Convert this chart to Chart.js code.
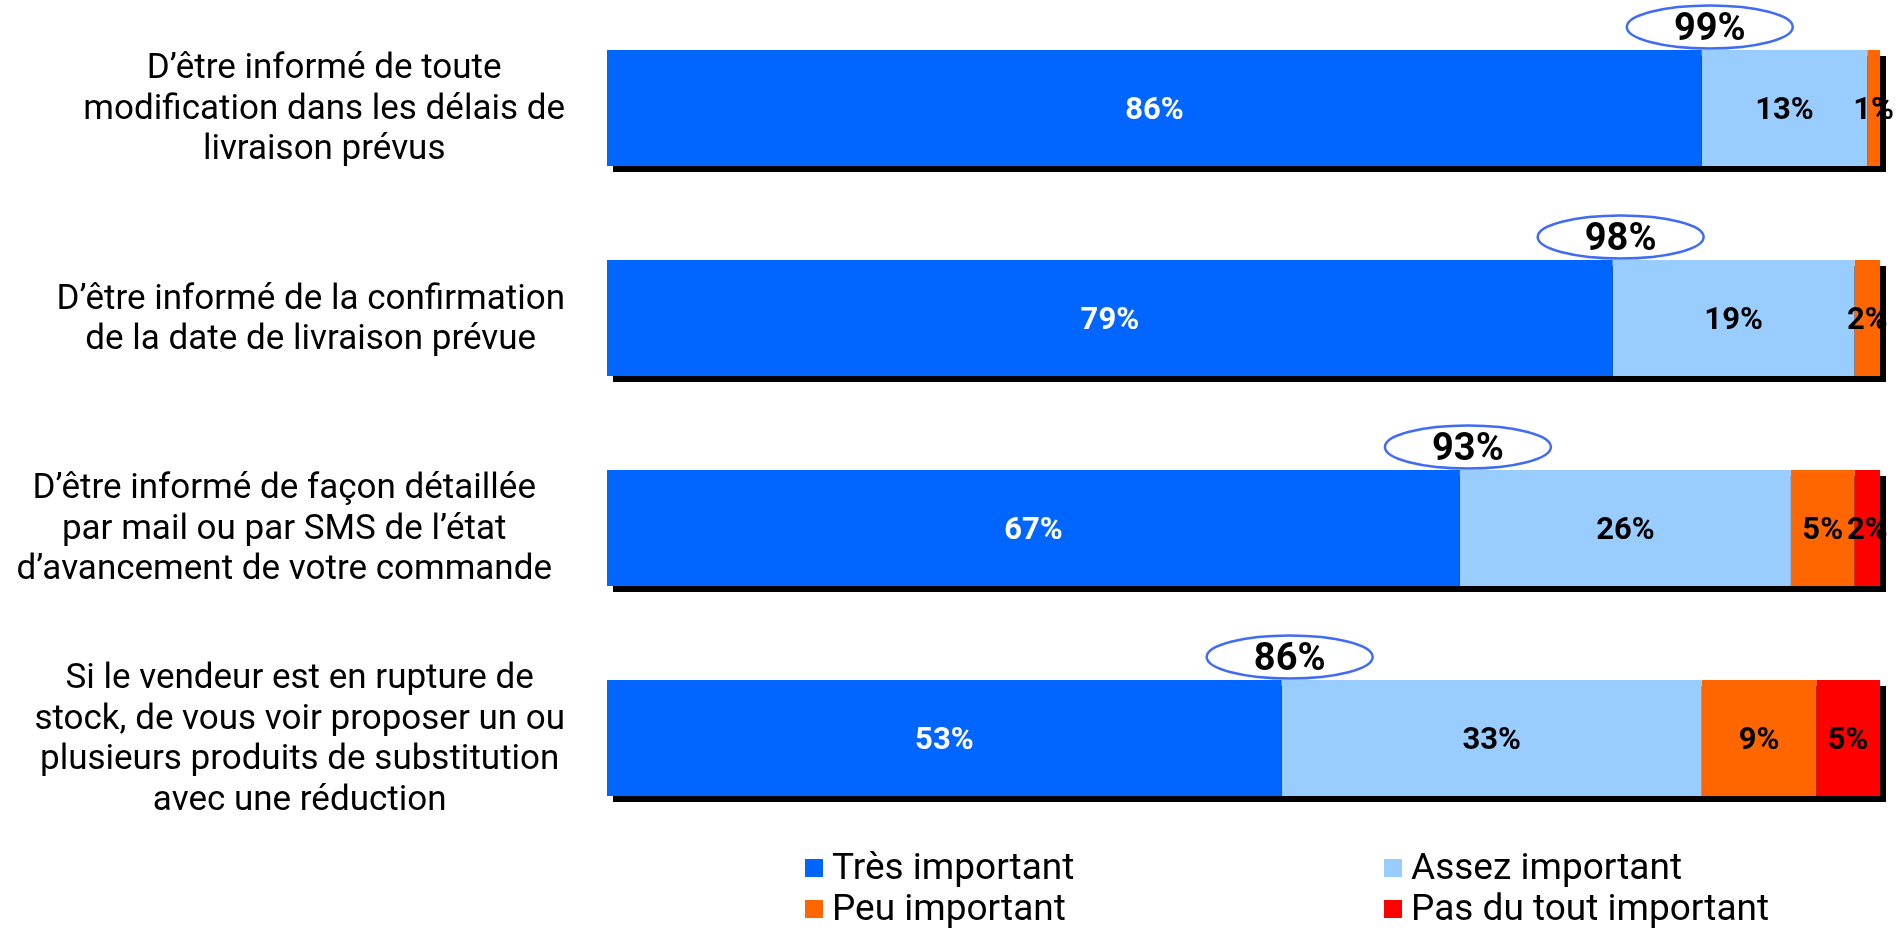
<!DOCTYPE html>
<html>
<head>
<meta charset="utf-8">
<script src="https://cdn.jsdelivr.net/npm/chart.js@4"></script>
<style>
html,body{margin:0;padding:0;background:#fff;}
#wrap{width:1904px;height:928px;position:relative;}
</style>
</head>
<body>
<div id="wrap"><canvas id="c"></canvas></div>
<script>
const categories = [
  ["D’être informé de toute", "modification dans les délais de", "livraison prévus"],
  ["D’être informé de la confirmation", "de la date de livraison prévue"],
  ["D’être informé de façon détaillée", "par mail ou par SMS de l’état", "d’avancement de votre commande"],
  ["Si le vendeur est en rupture de", "stock, de vous voir proposer un ou", "plusieurs produits de substitution", "avec une réduction"]
];
const seriesNames = ["Très important", "Assez important", "Peu important", "Pas du tout important"];
const tresImportant = [86, 79, 67, 53];
const assezImportant = [13, 19, 26, 33];
const peuImportant = [1, 2, 5, 9];
const pasImportant = [0, 0, 2, 5];
const totalImportant = [99, 98, 93, 86];
const colors = ["#0066FF", "#99CCFF", "#FF6600", "#FF0000"];

const FONT = "Roboto, 'Open Sans', sans-serif";

const shadowPlugin = {
  id: 'shadow',
  beforeDatasetsDraw(chart) {
    const ctx = chart.ctx;
    const xs = chart.scales.x;
    const meta0 = chart.getDatasetMeta(0);
    ctx.save();
    ctx.fillStyle = '#000';
    meta0.data.forEach((bar, i) => {
      const total = tresImportant[i] + assezImportant[i] + peuImportant[i] + pasImportant[i];
      const x0 = xs.getPixelForValue(0);
      const x1 = xs.getPixelForValue(total);
      const h = bar.height;
      const top = bar.y - h / 2;
      ctx.fillRect(x0 + 6, top + 6, x1 - x0, h);
    });
    ctx.restore();
  }
};

const labelsPlugin = {
  id: 'customLabels',
  afterDatasetsDraw(chart) {
    const ctx = chart.ctx;
    ctx.save();
    // segment value labels
    ctx.font = "bold 31px " + FONT;
    ctx.textAlign = 'center';
    ctx.textBaseline = 'middle';
    chart.data.datasets.forEach((ds, di) => {
      const meta = chart.getDatasetMeta(di);
      meta.data.forEach((bar, i) => {
        const v = ds.data[i];
        if (!v) return;
        ctx.fillStyle = di === 0 ? '#fff' : '#000';
        ctx.fillText(v + '%', (bar.x + bar.base) / 2, bar.y + 3);
      });
    });
    // ellipse totals
    const xs = chart.scales.x;
    const meta0 = chart.getDatasetMeta(0);
    meta0.data.forEach((bar, i) => {
      const cx = xs.getPixelForValue(tresImportant[i]) + 8;
      const top = bar.y - bar.height / 2;
      const cy = top - 23;
      ctx.beginPath();
      ctx.ellipse(cx, cy, 83, 21.5, 0, 0, Math.PI * 2);
      ctx.lineWidth = 2.5;
      ctx.strokeStyle = '#3F6BF5';
      ctx.stroke();
      ctx.fillStyle = '#000';
      ctx.font = "bold 38px " + FONT;
      ctx.fillText(totalImportant[i] + '%', cx, cy + 3);
    });
    // category labels
    ctx.font = "35px " + FONT;
    ctx.fillStyle = '#000';
    const rightEdges = [565, 565, 552, 565];
    const lh = 40.5;
    meta0.data.forEach((bar, i) => {
      const lines = categories[i];
      const maxW = Math.max(...lines.map(l => ctx.measureText(l).width));
      const cx = rightEdges[i] - maxW / 2;
      const startY = bar.y + 2 - (lines.length - 1) * lh / 2;
      lines.forEach((l, k) => ctx.fillText(l, cx, startY + k * lh));
    });
    // legend
    const legendPos = [[805, 868], [1384, 868], [805, 909], [1384, 909]];
    ctx.font = "37px " + FONT;
    ctx.textAlign = 'left';
    seriesNames.forEach((n, k) => {
      const [lx, ly] = legendPos[k];
      ctx.fillStyle = colors[k];
      ctx.fillRect(lx, ly - 9, 18, 18);
      ctx.fillStyle = '#000';
      ctx.fillText(n, lx + 27, ly + 2);
    });
    ctx.restore();
  }
};

const seriesData = [tresImportant, assezImportant, peuImportant, pasImportant];

new Chart(document.getElementById('c'), {
  type: 'bar',
  data: {
    labels: categories.map(c => c.join(' ')),
    datasets: seriesNames.map((n, k) => ({
      label: n,
      data: seriesData[k],
      backgroundColor: colors[k],
      borderWidth: 0,
      barPercentage: 116 / 210,
      categoryPercentage: 1
    }))
  },
  options: {
    indexAxis: 'y',
    responsive: true,
    maintainAspectRatio: false,
    animation: false,
    layout: { padding: { left: 607, right: 24, top: 3, bottom: 85 } },
    scales: {
      x: { stacked: true, min: 0, max: 100, display: false },
      y: { stacked: true, display: false }
    },
    plugins: { legend: { display: false }, tooltip: { enabled: false } }
  },
  plugins: [shadowPlugin, labelsPlugin]
});
</script>
</body>
</html>
